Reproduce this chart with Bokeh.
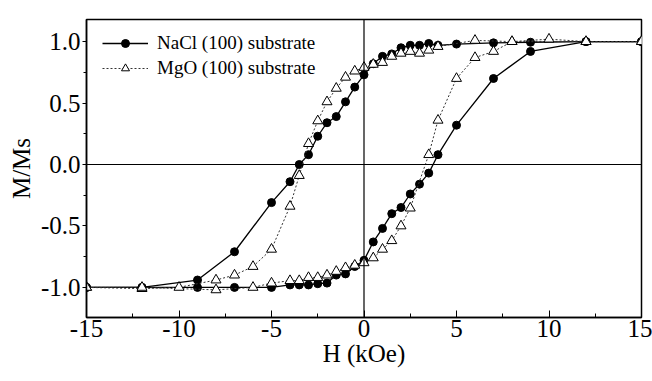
from bokeh.plotting import figure
from bokeh.models import (Range1d, FixedTicker, CustomJSTickFormatter, Span,
                          Legend, LegendItem)
from bokeh.embed import file_html
from bokeh.resources import INLINE

# ---- data ----
nacl_up_h = [15, 12, 9, 7, 5, 4, 3.5, 3, 2.5, 2, 1.5, 1, 0.5, 0, -0.5, -1, -1.5,
             -2, -2.5, -3, -3.5, -4, -5, -7, -9, -12, -15]
nacl_up_m = [1.0, 1.0, 0.995, 0.99, 0.98, 0.97, 0.985, 0.97, 0.97, 0.95, 0.90,
             0.88, 0.82, 0.73, 0.63, 0.51, 0.39, 0.34, 0.23, 0.08, 0.0, -0.14,
             -0.31, -0.71, -0.94, -1.0, -1.0]
nacl_dn_h = [-15, -12, -9, -7, -5, -4, -3.5, -3, -2.5, -2, -1.5, -1, -0.5, 0,
             0.5, 1, 1.5, 2, 2.5, 3, 3.5, 4, 5, 7, 9, 12, 15]
nacl_dn_m = [-1.0, -1.0, -1.0, -1.0, -1.0, -0.98, -0.98, -0.98, -0.97, -0.965,
             -0.90, -0.89, -0.83, -0.78, -0.63, -0.52, -0.40, -0.35, -0.24,
             -0.16, -0.07, 0.08, 0.32, 0.70, 0.92, 1.0, 1.0]
mgo_up_h = [15, 12, 10, 8, 6, 4, 3.5, 3, 2.5, 2, 1.5, 1, 0.5, 0, -0.5, -1,
            -1.5, -2, -2.5, -3, -3.5, -4, -5, -6, -7, -8, -10, -12, -15]
mgo_up_m = [1.0, 1.0, 1.02, 1.0, 1.01, 0.96, 0.93, 0.905, 0.92, 0.905, 0.88,
            0.83, 0.815, 0.79, 0.76, 0.71, 0.62, 0.51, 0.355, 0.17, -0.09,
            -0.34, -0.69, -0.83, -0.90, -0.94, -1.0, -1.01, -1.0]
mgo_dn_h = [-15, -12, -8, -6, -5, -4, -3.5, -3, -2.5, -2, -1.5, -1, -0.5, 0,
            0.5, 1, 1.5, 2, 2.5, 3.5, 4, 5, 6, 7, 8, 12, 15]
mgo_dn_m = [-1.0, -1.0, -1.02, -1.0, -0.965, -0.945, -0.945, -0.92, -0.92,
            -0.90, -0.87, -0.84, -0.82, -0.80, -0.76, -0.69, -0.62, -0.50,
            -0.355, 0.08, 0.36, 0.70, 0.87, 0.92, 1.0, 1.0, 1.0]

x_ticks = [-15, -10, -5, 0, 5, 10, 15]
x_minor = [-12.5, -7.5, -2.5, 2.5, 7.5, 12.5]
y_ticks = [-1.0, -0.5, 0.0, 0.5, 1.0]
y_minor = [-0.75, -0.25, 0.25, 0.75]

FONT = "Liberation Serif"

p = figure(width=652, height=381, output_backend="svg", toolbar_location=None,
           x_range=Range1d(-15, 15), y_range=Range1d(-1.245, 1.18),
           min_border_left=86, min_border_right=11, min_border_top=19,
           min_border_bottom=64)
p.grid.visible = False
p.outline_line_color = "black"
p.outline_line_width = 1.5
p.background_fill_color = "white"
p.border_fill_color = "white"

for ax in (p.xaxis[0], p.yaxis[0]):
    ax.axis_line_color = "black"
    ax.axis_line_width = 1.5
    ax.major_tick_line_color = "black"
    ax.minor_tick_line_color = "black"
    ax.major_label_text_font = FONT
    ax.major_label_text_font_size = "25px"
    ax.major_label_text_color = "black"
    ax.axis_label_text_font = FONT
    ax.axis_label_text_font_size = "25px"
    ax.axis_label_text_font_style = "normal"
    ax.axis_label_text_color = "black"

p.xaxis.ticker = FixedTicker(ticks=x_ticks, minor_ticks=x_minor)
p.yaxis.ticker = FixedTicker(ticks=y_ticks, minor_ticks=y_minor)
p.xaxis.formatter = CustomJSTickFormatter(code="return tick.toFixed(0);")
p.yaxis.formatter = CustomJSTickFormatter(code="return tick.toFixed(1);")
p.xaxis.major_tick_in = 7
p.xaxis.major_tick_out = 0
p.xaxis.minor_tick_in = 4
p.xaxis.minor_tick_out = 0
p.xaxis.major_label_standoff = 2
p.xaxis.axis_label_standoff = 0
p.yaxis.major_tick_in = 0
p.yaxis.major_tick_out = 4
p.yaxis.minor_tick_in = 0
p.yaxis.minor_tick_out = 3
p.yaxis.major_label_standoff = 2
p.yaxis.axis_label_standoff = 3
p.xaxis.axis_label = "H (kOe)"
p.yaxis.axis_label = "M/Ms"

p.add_layout(Span(location=0, dimension="width", line_color="black", line_width=1.2))
p.add_layout(Span(location=0, dimension="height", line_color="black", line_width=1.2))

# NaCl: solid line, filled circles
l1 = p.line(nacl_up_h, nacl_up_m, line_color="black", line_width=1.3)
p.line(nacl_dn_h, nacl_dn_m, line_color="black", line_width=1.3)
s1 = p.scatter(nacl_up_h, nacl_up_m, marker="circle", size=8,
               fill_color="black", line_color="black")
p.scatter(nacl_dn_h, nacl_dn_m, marker="circle", size=8,
          fill_color="black", line_color="black")

# MgO: dotted line, open triangles
l2 = p.line(mgo_up_h, mgo_up_m, line_color="#333333", line_width=1,
            line_dash="2 2")
p.line(mgo_dn_h, mgo_dn_m, line_color="#333333", line_width=1, line_dash="2 2")
s2 = p.scatter(mgo_up_h, mgo_up_m, marker="triangle", size=10,
               fill_color="white", line_color="black", line_width=1)
p.scatter(mgo_dn_h, mgo_dn_m, marker="triangle", size=10,
          fill_color="white", line_color="black", line_width=1)

legend = Legend(items=[
    LegendItem(label="NaCl (100) substrate", renderers=[l1, s1]),
    LegendItem(label="MgO (100) substrate", renderers=[l2, s2]),
], location=(11, 233), orientation="vertical")
legend.label_text_font = FONT
legend.label_text_font_size = "19px"
legend.label_text_color = "black"
legend.glyph_width = 46
legend.label_standoff = 9
legend.spacing = 3
legend.padding = 5
legend.margin = 0
legend.border_line_alpha = 0
legend.background_fill_alpha = 0
p.add_layout(legend, "center")

open("out.html", "w").write(file_html(p, INLINE))
